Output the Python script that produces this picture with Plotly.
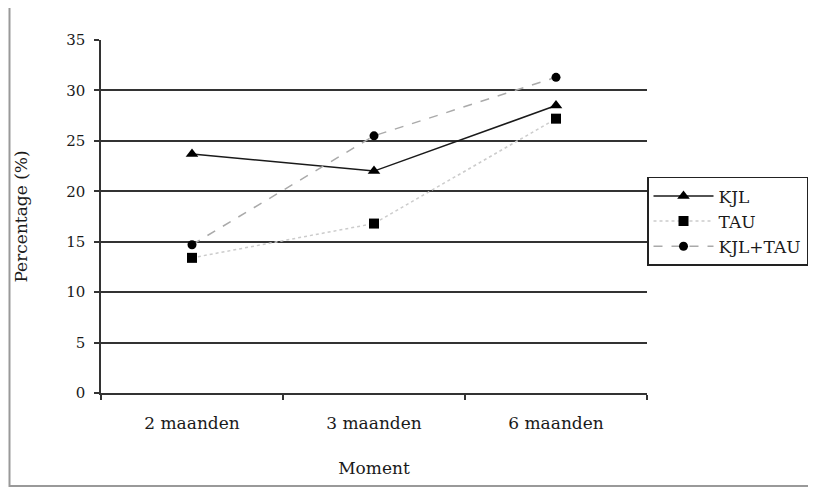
import plotly.graph_objects as go

categories = ["2 maanden", "3 maanden", "6 maanden"]
kjl = [23.7, 22.0, 28.5]
tau = [13.4, 16.8, 27.2]
kjl_tau = [14.7, 25.5, 31.3]

font_family = "DejaVu Serif, Liberation Serif, serif"

fig = go.Figure()
fig.add_trace(go.Scatter(
    x=categories, y=kjl, name="KJL", mode="lines+markers",
    line=dict(color="#1a1a1a", width=1.5),
    marker=dict(symbol="triangle-up", size=11, color="black"),
))
fig.add_trace(go.Scatter(
    x=categories, y=tau, name="TAU", mode="lines+markers",
    line=dict(color="#cccccc", width=1.5, dash="dot"),
    marker=dict(symbol="square", size=10, color="black"),
))
fig.add_trace(go.Scatter(
    x=categories, y=kjl_tau, name="KJL+TAU", mode="lines+markers",
    line=dict(color="#aaaaaa", width=1.5, dash="dash"),
    marker=dict(symbol="circle", size=9, color="black"),
))

# plot area on screen: x 98..647, y 40..393 (page adds 8px body margin)
fig.update_layout(
    width=816, height=490,
    margin=dict(l=90, r=177, t=32, b=105),
    paper_bgcolor="white", plot_bgcolor="white",
    font=dict(family=font_family, size=14, color="#1a1a1a"),
    legend=dict(
        x=1.0, y=0.612, xanchor="left", yanchor="top",
        bordercolor="#222222", borderwidth=1.5,
        font=dict(family=font_family, size=17, color="#1a1a1a"),
        tracegroupgap=0, itemwidth=60,
    ),
    showlegend=True,
)
fig.update_xaxes(
    type="category", range=[-0.5, 2.5],
    showgrid=False, showline=True, linecolor="#333333", linewidth=1.5,
    ticks="outside", tickson="boundaries", ticklen=5, tickcolor="#333333", tickwidth=1.5,
    tickfont=dict(size=17), ticklabelstandoff=14,
    title=dict(text="Moment", font=dict(size=17), standoff=30),
)
fig.update_yaxes(
    range=[0, 35], dtick=5, tick0=0,
    showgrid=True, gridcolor="#333333", gridwidth=1.5,
    showline=True, linecolor="#333333", linewidth=1.5,
    ticks="outside", ticklen=5, tickcolor="#333333", tickwidth=1.5,
    zeroline=False, tickfont=dict(size=15), ticklabelstandoff=6,
    title=dict(text="Percentage (%)", font=dict(size=17), standoff=34),
)
# outer frame
fig.add_shape(type="rect", xref="paper", yref="paper",
              x0=(6 - 98) / 549, x1=(812 - 98) / 549,
              y0=-(486 - 393) / 353, y1=(393 - 6) / 353,
              line=dict(color="#999999", width=2), layer="below")

fig.write_html("out.html")
